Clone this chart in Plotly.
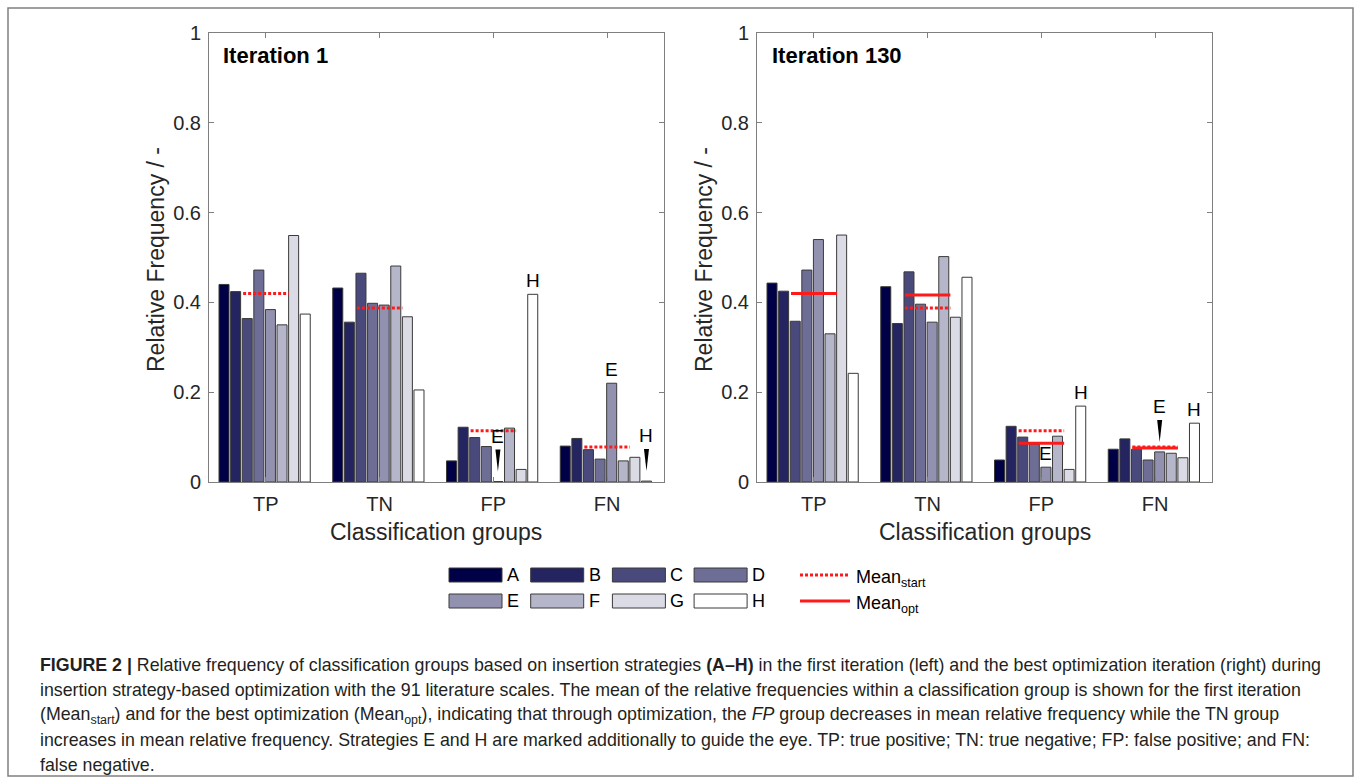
import numpy as np
import plotly.graph_objects as go

# ---------------- data ----------------
groups = ["TP", "TN", "FP", "FN"]
strategies = ["A", "B", "C", "D", "E", "F", "G", "H"]

# relative frequency per strategy (rows) and group (columns TP, TN, FP, FN)
iter1_A = [0.440, 0.432, 0.047, 0.080]
iter1_B = [0.424, 0.356, 0.122, 0.097]
iter1_C = [0.364, 0.465, 0.099, 0.072]
iter1_D = [0.472, 0.398, 0.079, 0.051]
iter1_E = [0.384, 0.394, 0.001, 0.220]
iter1_F = [0.350, 0.481, 0.120, 0.047]
iter1_G = [0.549, 0.368, 0.028, 0.055]
iter1_H = [0.374, 0.205, 0.418, 0.002]

iter130_A = [0.443, 0.435, 0.049, 0.073]
iter130_B = [0.425, 0.353, 0.124, 0.096]
iter130_C = [0.358, 0.468, 0.100, 0.073]
iter130_D = [0.472, 0.396, 0.084, 0.049]
iter130_E = [0.540, 0.356, 0.033, 0.067]
iter130_F = [0.330, 0.502, 0.102, 0.064]
iter130_G = [0.550, 0.367, 0.028, 0.054]
iter130_H = [0.242, 0.456, 0.169, 0.131]

panel_titles = ["Iteration 1", "Iteration 130"]
y_ticks = [0, 0.2, 0.4, 0.6, 0.8, 1.0]
y_ticklabels = ["0", "0.2", "0.4", "0.6", "0.8", "1"]

# strategy markers (panel, group, strategy, with arrow?)
markers = [
    (0, "FP", "E", True), (0, "FP", "H", False),
    (0, "FN", "E", False), (0, "FN", "H", True),
    (1, "FP", "E", False), (1, "FP", "H", False),
    (1, "FN", "E", True), (1, "FN", "H", False),
]

caption_lines = [
    "<b>FIGURE 2 |</b> Relative frequency of classification groups based on insertion strategies <b>(A–H)</b> in the first iteration (left) and the best optimization iteration (right) during",
    "insertion strategy-based optimization with the 91 literature scales. The mean of the relative frequencies within a classification group is shown for the first iteration",
    "(Mean<sub>start</sub>) and for the best optimization (Mean<sub>opt</sub>), indicating that through optimization, the <i>FP</i> group decreases in mean relative frequency while the TN group",
    "increases in mean relative frequency. Strategies E and H are marked additionally to guide the eye. TP: true positive; TN: true negative; FP: false positive; and FN:",
    "false negative.",
]

# ---------------- styling ----------------
W, H = 1360, 781
FONT = "Liberation Sans, Arial, Helvetica, sans-serif"
colors = ["rgb(0,0,70)", "rgb(36,36,96)", "rgb(73,73,123)", "rgb(109,109,149)",
          "rgb(146,146,176)", "rgb(182,182,202)", "rgb(219,219,229)", "rgb(255,255,255)"]
edge = "#3a3a3a"
axis_gray = "#7f7f7f"
red = "#ff1a1a"

pitch = 0.102
bar_w = 0.088
first_off = -0.412
mean_half = 0.2

panels = [
    [iter1_A, iter1_B, iter1_C, iter1_D, iter1_E, iter1_F, iter1_G, iter1_H],
    [iter130_A, iter130_B, iter130_C, iter130_D, iter130_E, iter130_F, iter130_G, iter130_H],
]


def px(x):
    return x / W


def py(y):
    return 1 - y / H


x_domains = [[px(209), px(664)], [px(757), px(1212)]]
y_domain = [py(482), py(33)]
unit_px = 449.0  # pixels per y unit

fig = go.Figure()
cat_x = np.arange(1, len(groups) + 1)
start_means = np.mean(np.array(panels[0]), axis=0)


def seg(means):
    xs, ys = [], []
    for c, m in zip(cat_x, means):
        xs += [c - mean_half, c + mean_half, None]
        ys += [m, m, None]
    return xs, ys


for p, data in enumerate(panels):
    xa = "x" if p == 0 else "x2"
    ya = "y" if p == 0 else "y2"
    for i, s in enumerate(strategies):
        fig.add_trace(go.Bar(
            x=cat_x, y=data[i], width=bar_w, offset=first_off + i * pitch,
            marker=dict(color=colors[i], line=dict(color=edge, width=1)),
            xaxis=xa, yaxis=ya, showlegend=False, name=s,
        ))
    xs, ys = seg(start_means)
    fig.add_trace(go.Scatter(x=xs, y=ys, mode="lines", xaxis=xa, yaxis=ya,
                             line=dict(color=red, width=3, dash="3px,2px"),
                             showlegend=False, hoverinfo="skip"))
    if p == 1:
        opt_means = np.mean(np.array(data), axis=0)
        xs, ys = seg(opt_means)
        fig.add_trace(go.Scatter(x=xs, y=ys, mode="lines", xaxis=xa, yaxis=ya,
                                 line=dict(color=red, width=3),
                                 showlegend=False, hoverinfo="skip"))

annotations = []
shapes = []

# strategy markers
for (p, g, s, arrow) in markers:
    gi = groups.index(g)
    si = strategies.index(s)
    v = panels[p][si][gi]
    xc = cat_x[gi] + first_off + si * pitch + bar_w / 2
    xr = "x" if p == 0 else "x2"
    yr = "y" if p == 0 else "y2"
    gap = 10 / unit_px
    if arrow:
        tip = v + gap
        top = tip + 22 / unit_px
        hw = 0.022
        shapes.append(dict(type="path", xref=xr, yref=yr,
                           path=f"M {xc-hw} {top} L {xc+hw} {top} L {xc} {tip} Z",
                           fillcolor="black", line=dict(width=0)))
        ly = top + 10 / unit_px
    else:
        ly = v + gap
    annotations.append(dict(x=xc, y=ly, xref=xr, yref=yr, text=s, showarrow=False,
                            yanchor="bottom", yshift=-9,
                            font=dict(family=FONT, size=19, color="black")))

# panel titles and axis titles
for p in range(2):
    x0 = [221, 770][p]
    annotations.append(dict(x=px(x0), y=py(55), xref="paper", yref="paper",
                            text=f"<b>{panel_titles[p]}</b>", showarrow=False,
                            xanchor="left", yanchor="middle",
                            font=dict(family=FONT, size=22, color="black")))
    annotations.append(dict(x=(x_domains[p][0] + x_domains[p][1]) / 2, y=py(532),
                            xref="paper", yref="paper", text="Classification groups",
                            showarrow=False, xanchor="center", yanchor="middle",
                            font=dict(family=FONT, size=23, color="#262626")))
    annotations.append(dict(x=px([156, 704][p]), y=py(260),
                            xref="paper", yref="paper", text="Relative Frequency / -",
                            showarrow=False, textangle=-90, xanchor="center",
                            yanchor="middle",
                            font=dict(family=FONT, size=23, color="#262626")))

# legend (manual, 2 rows x 4 columns + mean lines)
leg_x0, leg_pitch, sw_w, sw_h = 449, 81.7, 53, 14
rows_y = [575, 601]
for i, s in enumerate(strategies):
    r, c = divmod(i, 4)
    x0 = leg_x0 + c * leg_pitch
    yc = rows_y[r]
    shapes.append(dict(type="rect", xref="paper", yref="paper",
                       x0=px(x0), x1=px(x0 + sw_w), y0=py(yc + sw_h / 2), y1=py(yc - sw_h / 2),
                       fillcolor=colors[i], line=dict(color=edge, width=1)))
    annotations.append(dict(x=px(x0 + sw_w + 3), y=py(yc), xref="paper", yref="paper",
                            text=s, showarrow=False, xanchor="left", yanchor="middle",
                            font=dict(family=FONT, size=18, color="black")))
for r, (lab, dash) in enumerate([("Mean<sub>start</sub>", "3px,2px"), ("Mean<sub>opt</sub>", "solid")]):
    yc = rows_y[r]
    shapes.append(dict(type="line", xref="paper", yref="paper",
                       x0=px(800), x1=px(850), y0=py(yc), y1=py(yc),
                       line=dict(color=red, width=3, dash=dash)))
    annotations.append(dict(x=px(854), y=py(yc), xref="paper", yref="paper",
                            text=lab, showarrow=False, xanchor="left", yanchor="middle",
                            yshift=-3,
                            font=dict(family=FONT, size=18, color="black")))

# caption
for k, line in enumerate(caption_lines):
    annotations.append(dict(x=px(38), y=py(665 + 25 * k), xref="paper", yref="paper",
                            text=line, showarrow=False, xanchor="left", yanchor="middle",
                            font=dict(family=FONT, size=17.8, color="#231f20")))

# outer frame
shapes.append(dict(type="rect", xref="paper", yref="paper", x0=px(8), x1=px(1353),
                   y0=py(776), y1=py(8), line=dict(color="#808080", width=1.5),
                   layer="below"))

axis_common = dict(showline=True, linecolor=axis_gray, linewidth=1, mirror="ticks",
                   ticks="inside", ticklen=5, tickcolor=axis_gray, showgrid=False,
                   zeroline=False, automargin=False)

layout_axes = {}
for p in range(2):
    sx = "" if p == 0 else "2"
    layout_axes[f"xaxis{sx}"] = dict(axis_common, domain=x_domains[p], range=[0.5, 4.5],
                                     tickvals=list(cat_x), ticktext=groups,
                                     ticklabelstandoff=4,
                                     tickfont=dict(family=FONT, size=20, color="#262626"),
                                     anchor=f"y{sx}", fixedrange=True)
    layout_axes[f"yaxis{sx}"] = dict(axis_common, domain=y_domain, range=[0, 1],
                                     tickvals=y_ticks, ticktext=y_ticklabels,
                                     ticklabelstandoff=3,
                                     tickfont=dict(family=FONT, size=20, color="#262626"),
                                     anchor=f"x{sx}", fixedrange=True)

fig.update_layout(template="none", width=W, height=H, autosize=False,
                  margin=dict(l=0, r=0, t=0, b=0, pad=0, autoexpand=False),
                  paper_bgcolor="white", plot_bgcolor="white", barmode="overlay",
                  font=dict(family=FONT), annotations=annotations, shapes=shapes,
                  **layout_axes)

fig.write_html("out.html", config={"responsive": False, "displayModeBar": False},
               post_script="document.body.style.margin='0px';")
